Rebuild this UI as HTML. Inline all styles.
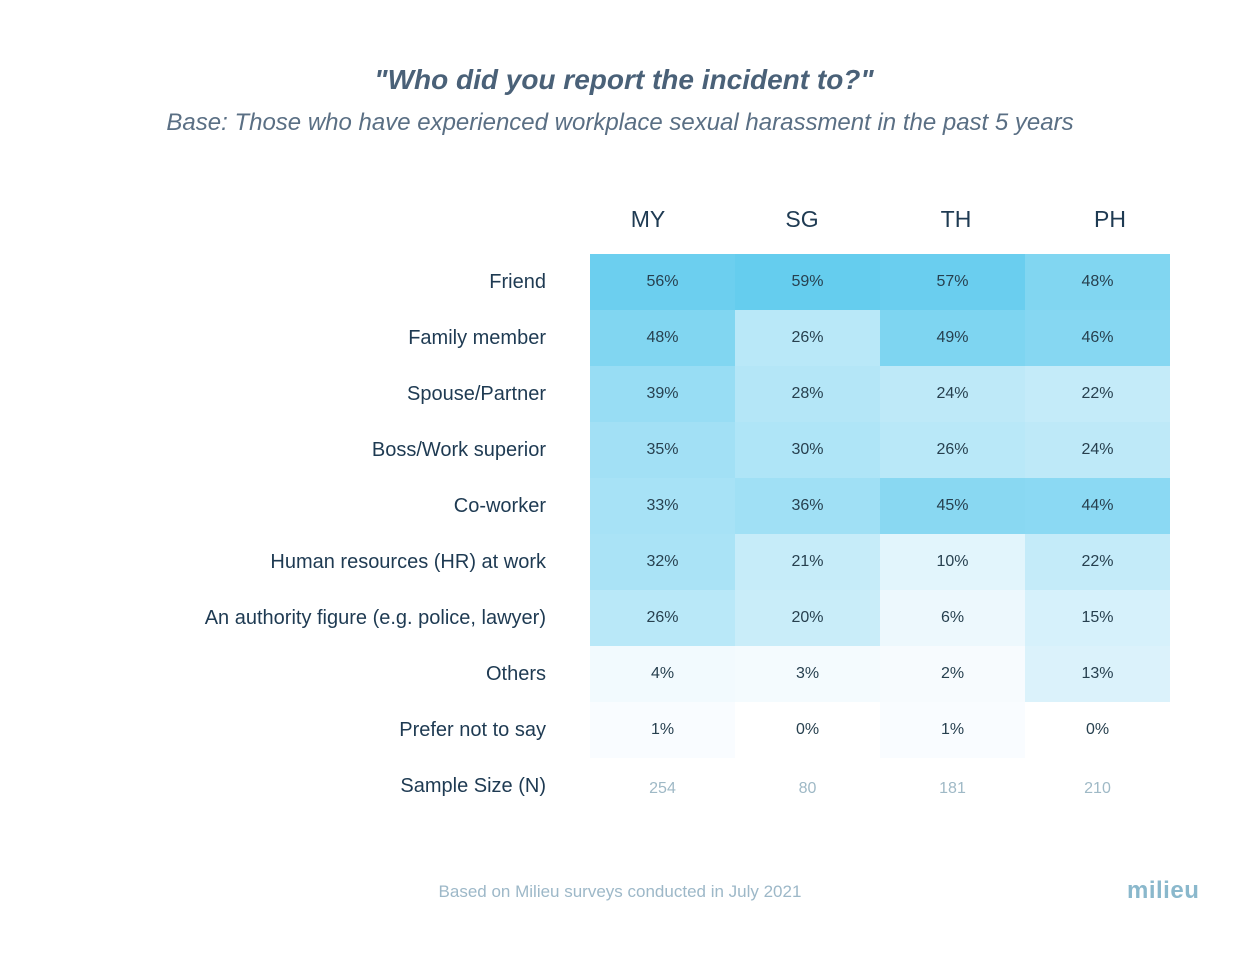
<!DOCTYPE html>
<html><head><meta charset="utf-8"><style>
body{margin:0;background:#fff;width:1240px;height:962px;position:relative;font-family:"Liberation Sans",sans-serif;overflow:hidden}
.t{position:absolute;white-space:nowrap}
</style></head><body>
<div class="t" style="left:0;width:1240px;text-align:center;top:64px;font-size:28px;font-weight:bold;font-style:italic;color:#4a6178;padding-left:4px">"Who did you report the incident to?"</div>
<div class="t" style="left:0;width:1240px;text-align:center;top:109px;font-size:24px;font-style:italic;color:#5a6f84">Base: Those who have experienced workplace sexual harassment in the past 5 years</div>
<div id="grid"></div>
<div class="t" style="left:0;width:1240px;text-align:center;top:882px;font-size:17px;color:#9db8c8">Based on Milieu surveys conducted in July 2021</div>
<div class="t" style="left:1127px;top:877px;font-size:24px;font-weight:bold;color:#8ab8cc;letter-spacing:0.5px">milieu</div>
<script>
const countries=["MY","SG","TH","PH"];
const rows=["Friend","Family member","Spouse/Partner","Boss/Work superior","Co-worker","Human resources (HR) at work","An authority figure (e.g. police, lawyer)","Others","Prefer not to say"];
const valMY=[56,48,39,35,33,32,26,4,1];
const valSG=[59,26,28,30,36,21,20,3,0];
const valTH=[57,49,24,26,45,10,6,2,1];
const valPH=[48,46,22,24,44,22,15,13,0];
const sampleSizes=[254,80,181,210];
const series=[valMY,valSG,valTH,valPH];
const g=document.getElementById('grid');
const x0=590,cw=145,y0=254,rh=56;
function col(v){if(v===0)return '#ffffff';const t=Math.min(v/60,1);const a=[252,253,255],b=[98,204,238];return 'rgb('+a.map((c,i)=>Math.round(c+(b[i]-c)*t)).join(',')+')';}
function mk(name,css,txt){const d=document.createElement('div');d.className='t';d.style.cssText=css;d.textContent=txt;


g.appendChild(d);return d;}
countries.forEach((c,j)=>mk('column-header-'+c.toLowerCase(),`left:${571+j*154}px;width:154px;text-align:center;top:206px;font-size:23px;color:#1e3a52`,c));
rows.forEach((r,i)=>{
mk('row-label',`right:${1240-546}px;top:${y0+i*rh+17}px;font-size:20px;color:#1e3a52`,r);
series.forEach((s,j)=>{mk('heatmap-cell',`left:${x0+j*cw}px;width:${cw}px;height:${rh}px;line-height:${rh}px;top:${y0+i*rh}px;text-align:center;font-size:16px;color:#27404f;background:${col(s[i])}`,s[i]+'%');});
});
mk('row-label-sample-size',`right:${1240-546}px;top:${y0+9*rh+17}px;font-size:20px;color:#1e3a52`,'Sample Size (N)');
sampleSizes.forEach((n,j)=>mk('sample-size',`left:${x0+j*cw}px;width:${cw}px;text-align:center;top:${y0+9*rh+22}px;font-size:16px;color:#9fb9c6`,n));
</script>
</body></html>
